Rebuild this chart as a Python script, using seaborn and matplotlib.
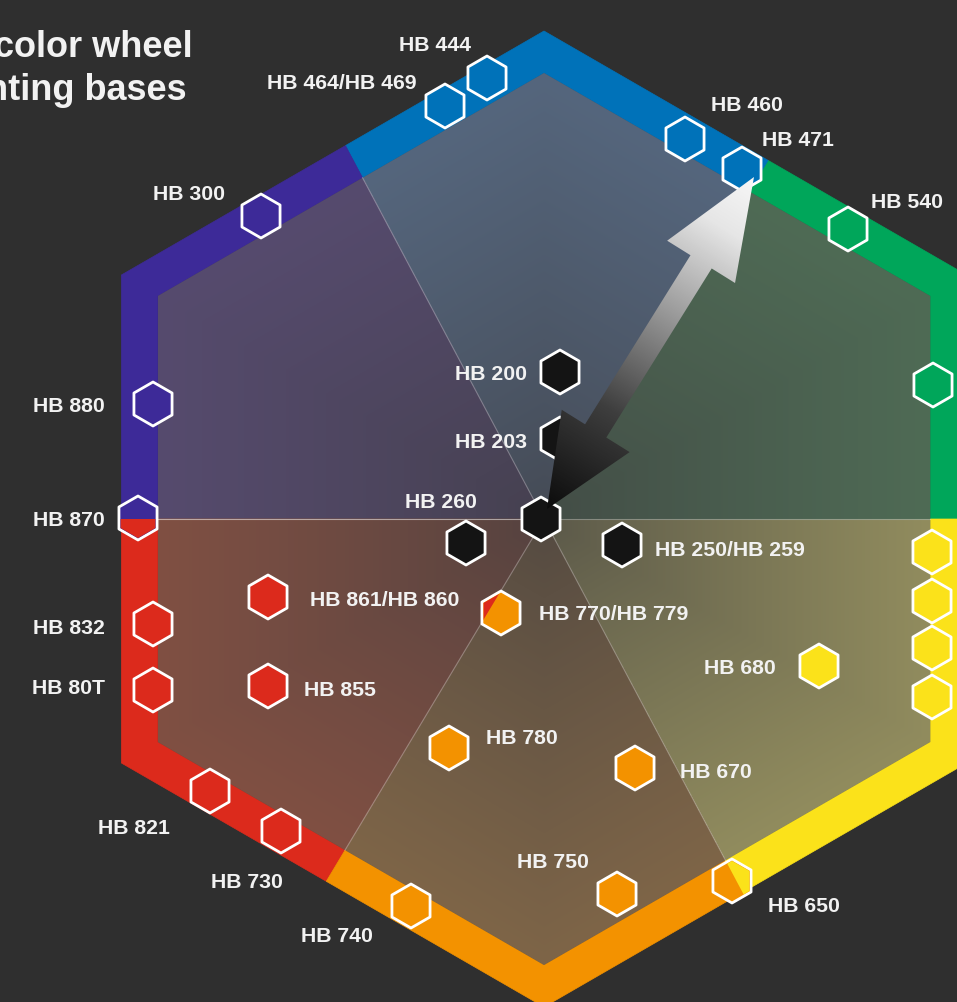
import numpy as np
import matplotlib
matplotlib.use("Agg")
import matplotlib.pyplot as plt
from matplotlib.patches import Polygon, RegularPolygon
from matplotlib.colors import LinearSegmentedColormap, to_rgb
import pandas as pd
import seaborn as sns

# wheel sectors, counter-clockwise from the right (degrees)
sector_names = ["green", "blue", "purple", "red", "orange", "yellow"]
sector_start = [0, 58, 118, 180, 239, 298]
ring_colors = ["#00a65a", "#0072b9", "#3d2a98", "#dc2a1c", "#f39200", "#fbe21a"]
fill_colors = ["#4f6b55", "#55667d", "#564b6e", "#805043", "#7e6548", "#918c5e"]

# tinting bases: position relative to wheel centre (y up) and colour group
base_names = ["HB 444", "HB 464/HB 469", "HB 460", "HB 471", "HB 540", "",
              "HB 300", "HB 880", "HB 870", "HB 832", "HB 80T", "HB 861/HB 860",
              "HB 855", "HB 821", "HB 730", "HB 740", "HB 780", "HB 770/HB 779",
              "HB 670", "HB 750", "HB 650", "HB 680", "", "", "", "",
              "HB 200", "HB 203", "HB 260", "", "HB 250/HB 259"]
base_x = [-57, -99, 141, 198, 304, 389,
          -283, -391, -406, -391, -391, -276,
          -276, -334, -263, -133, -95, -43,
          91, 73, 188, 275, 388, 388, 388, 388,
          16, 16, -78, -3, 78]
base_y = [441, 413, 380, 350, 290, 134,
          303, 115, 1, -105, -171, -78,
          -167, -272, -312, -387, -229, -94,
          -249, -375, -362, -147, -33, -82, -129, -178,
          147, 80, -24, 0, -26]
base_group = ["blue", "blue", "blue", "blue", "green", "green",
              "purple", "purple", "purple", "red", "red", "red",
              "red", "red", "red", "orange", "orange", "orange",
              "orange", "orange", "orange", "yellow", "yellow", "yellow", "yellow", "yellow",
              "black", "black", "black", "black", "black"]
# second colour of markers cut by a sector border
split_bases = {"HB 870": "red", "HB 770/HB 779": "red", "HB 650": "yellow"}

# label anchors (centre of text)
label_pos = {
    "HB 444": (-109, 477), "HB 464/HB 469": (-202, 439), "HB 460": (203, 417),
    "HB 471": (254, 382), "HB 540": (363, 320), "HB 300": (-355, 328),
    "HB 880": (-475, 116), "HB 870": (-475, 2), "HB 832": (-475, -106),
    "HB 80T": (-475, -167), "HB 861/HB 860": (-159, -78), "HB 855": (-204, -169),
    "HB 821": (-410, -307), "HB 730": (-297, -360), "HB 740": (-207, -415),
    "HB 780": (-22, -216), "HB 770/HB 779": (70, -93), "HB 670": (172, -251),
    "HB 750": (9, -340), "HB 650": (260, -385), "HB 680": (196, -146),
    "HB 200": (-53, 147), "HB 203": (-53, 79), "HB 260": (-103, 19),
    "HB 250/HB 259": (186, -28),
}

title_lines = ["color wheel", "nting bases"]

R_OUT, R_IN = 488, 446
BG = "#2f2f2f"
MARKER_R = 22  # px

group_colors = dict(zip(sector_names, ring_colors))
group_colors["black"] = "#141414"

df = pd.DataFrame({"name": base_names, "x": base_x, "y": base_y, "group": base_group})


def hex_dist(t, R):
    n = 60 * np.round(t / 60)
    return R * np.cos(np.radians(30)) / np.cos(np.radians(t - n))


def hex_arc(a, b, R):
    angs = [a] + [v for v in range(30, 360, 60) if a < v < b] + [b]
    return [(hex_dist(t, R) * np.cos(np.radians(t)), hex_dist(t, R) * np.sin(np.radians(t)))
            for t in angs]


fig = plt.figure(figsize=(9.57, 10.03), dpi=100)
fig.patch.set_facecolor(BG)
ax = fig.add_axes([0, 0, 1, 1])
ax.set_facecolor(BG)

bounds = sector_start + [360]

# outer coloured ring
for i, c in enumerate(ring_colors):
    a, b = bounds[i], bounds[i + 1]
    pts = hex_arc(a, b, R_OUT) + hex_arc(a, b, R_IN)[::-1]
    ax.add_patch(Polygon(pts, closed=True, facecolor=c, edgecolor=c, lw=0.5, zorder=1))

# inner translucent sectors, darker towards the middle
inner_hex = Polygon(hex_arc(0, 360, R_IN), closed=True, facecolor="none", edgecolor="none")
ax.add_patch(inner_hex)
ap = R_IN * np.cos(np.radians(30))
gx = np.arange(-ap, ap + 1, 1.0)
gy = np.arange(-R_IN, R_IN + 1, 1.0)
X, Y = np.meshgrid(gx, gy)
theta = np.degrees(np.arctan2(Y, X)) % 360
idx = np.clip(np.searchsorted(sector_start, theta, side="right") - 1, 0, 5)
hn = np.max([X * np.cos(np.radians(k)) + Y * np.sin(np.radians(k)) for k in range(0, 360, 60)], axis=0) / ap
hn = np.clip(hn, 0, 1)
edge = np.array([to_rgb(c) for c in fill_colors])
mid = np.array(to_rgb("#3c3b3e"))
centre = edge * 0.35 + mid * 0.65
img = centre[idx] + (edge[idx] - centre[idx]) * (hn ** 0.85)[..., None]
im = ax.imshow(img, extent=(gx[0], gx[-1], gy[0], gy[-1]), origin="lower", zorder=2,
               interpolation="bilinear")
im.set_clip_path(inner_hex)

# faint seams between sectors
for a in sector_start + [180]:
    d = hex_dist(a, R_IN)
    ax.plot([0, d * np.cos(np.radians(a))], [0, d * np.sin(np.radians(a))],
            color="white", alpha=0.3, lw=0.8, zorder=3)

# hexagon markers
sns.scatterplot(data=df, x="x", y="y", hue="group", palette=group_colors, marker="h",
                s=(2 * MARKER_R * 72 / 100) ** 2, edgecolor="white", linewidth=2.0,
                legend=False, ax=ax, zorder=5)

# split markers get the neighbouring sector colour where the border crosses them
for name, g in split_bases.items():
    row = df[df.name == name].iloc[0]
    i = sector_names.index(g)
    wedge = [(0, 0)] + hex_arc(bounds[i], bounds[i + 1], 800)
    clip = RegularPolygon((row.x, row.y), 6, radius=MARKER_R - 1.9, transform=ax.transData)
    p = Polygon(wedge, closed=True, facecolor=group_colors[g], edgecolor="none", zorder=6)
    ax.add_patch(p)
    p.set_clip_path(clip)

# gradient double arrow
p0 = np.array([3.0, 10.0])
p1 = np.array([210.0, 342.0])
L = np.linalg.norm(p1 - p0)
u = (p1 - p0) / L
n = np.array([-u[1], u[0]])
hl0, hl1, hw, sw = 92, 100, 40, 12.5
b0 = p0 + hl0 * u
b1 = p1 - hl1 * u
arrow_pts = [p0, b0 + hw * n, b0 + sw * n, b1 + sw * n, b1 + hw * n, p1,
             b1 - hw * n, b1 - sw * n, b0 - sw * n, b0 - hw * n]
arrow = Polygon(arrow_pts, closed=True, facecolor="none", edgecolor="none")
ax.add_patch(arrow)
ax_ = np.arange(p0[0] - 50, p1[0] + 50, 1.0)
ay_ = np.arange(p0[1] - 10, p1[1] + 10, 1.0)
AX, AY = np.meshgrid(ax_, ay_)
tt = np.clip(((AX - p0[0]) * u[0] + (AY - p0[1]) * u[1]) / L, 0, 1)
acmap = LinearSegmentedColormap.from_list(
    "arr", [(0, "#0c0c0c"), (0.3, "#3e3e3e"), (0.6, "#9c9c9c"), (0.85, "#e6e6e6"), (1, "#f7f7f7")])
aim = ax.imshow(tt, cmap=acmap, vmin=0, vmax=1, extent=(ax_[0], ax_[-1], ay_[0], ay_[-1]),
                origin="lower", zorder=7, interpolation="bilinear")
aim.set_clip_path(arrow)

# labels
font = "Liberation Sans"
for name, (lx, ly) in label_pos.items():
    ax.text(lx, ly - 7.5, name, ha="center", va="baseline", color="#f2f2f2",
            fontsize=15.3, fontweight="bold", family=font, zorder=8)

ax.text(193 - 544, 520 - 57, title_lines[0], ha="right", va="baseline", color="#f2f2f2",
        fontsize=26, fontweight="bold", family=font, zorder=8)
ax.text(187 - 544, 520 - 100, title_lines[1], ha="right", va="baseline", color="#f2f2f2",
        fontsize=26, fontweight="bold", family=font, zorder=8)

ax.set_xlim(-544, 413)
ax.set_ylim(-483, 520)
ax.set_aspect("auto")
ax.axis("off")

fig.savefig("out.png", dpi=100, facecolor=BG)
